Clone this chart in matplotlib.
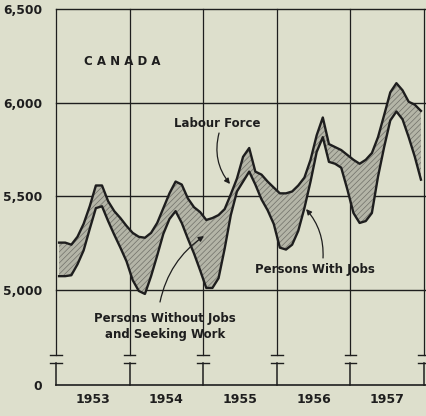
import matplotlib
matplotlib.use("Agg")
import matplotlib.pyplot as plt
import numpy as np

# monthly data, thousands of persons, Jan 1953 - Dec 1957
years = [1953, 1954, 1955, 1956, 1957]
labour_force = [
    5253, 5253, 5242, 5284, 5353, 5447, 5558, 5558, 5474, 5421, 5384, 5342,
    5305, 5284, 5279, 5305, 5358, 5437, 5516, 5579, 5563, 5489, 5442, 5416,
    5374, 5384, 5400, 5432, 5511, 5595, 5711, 5758, 5632, 5616, 5579, 5547,
    5516, 5516, 5526, 5558, 5600, 5695, 5826, 5921, 5779, 5763, 5747, 5721,
    5695, 5674, 5695, 5731, 5816, 5934, 6055, 6104, 6066, 6005, 5989, 5956,
]
with_jobs = [
    5074, 5074, 5079, 5137, 5211, 5326, 5437, 5447, 5368, 5295, 5226, 5153,
    5053, 4995, 4979, 5074, 5184, 5300, 5379, 5421, 5358, 5274, 5195, 5105,
    5011, 5011, 5063, 5221, 5400, 5526, 5579, 5632, 5563, 5484, 5426, 5353,
    5226, 5216, 5242, 5316, 5437, 5579, 5737, 5816, 5684, 5674, 5653, 5537,
    5411, 5358, 5368, 5411, 5605, 5763, 5905, 5953, 5911, 5816, 5711, 5589,
]
ytick_vals = [5000, 5500, 6000, 6500]
ytick_labels = ["5,000", "5,500", "6,000", "6,500"]

bg = "#dddfcc"
ink = "#1e1e1e"
font = "DejaVu Sans"

t = 1953 + (np.arange(len(labour_force)) + 0.5) / 12

fig = plt.figure(figsize=(4.26, 4.16), dpi=100, facecolor=bg)
ax = fig.add_axes([56 / 426, 31 / 416, 370 / 426, 376 / 416])
ax.set_facecolor(bg)

y_zero = 4493      # where the broken axis puts "0"
brk_hi, brk_lo = 4653, 4610
x_right = 1958.027
ax.set_xlim(1953, x_right)
ax.set_ylim(y_zero, 6500)
for s in ax.spines.values():
    s.set_visible(False)

# grid
for v in ytick_vals:
    ax.plot([1953, x_right], [v, v], color=ink, lw=1.0, clip_on=False, zorder=1)
ax.plot([1953, x_right], [y_zero, y_zero], color=ink, lw=1.2, clip_on=False, zorder=1)
for yr in years + [1958]:
    ax.plot([yr, yr], [brk_hi, 6500], color=ink, lw=0.9, clip_on=False, zorder=1)
    ax.plot([yr, yr], [y_zero, brk_lo], color=ink, lw=1.1, clip_on=False, zorder=1)
    for b in (brk_hi, brk_lo):
        ax.plot([yr - 0.08, yr + 0.08], [b, b], color=ink, lw=1.0, clip_on=False, zorder=1)

# shaded band
plt.rcParams["hatch.linewidth"] = 0.5
ax.fill_between(t, with_jobs, labour_force, facecolor="#b4b5a7", edgecolor="#707068",
                hatch="//////", linewidth=0, zorder=2)
ax.plot(t, labour_force, color=ink, lw=1.7, zorder=3)
ax.plot(t, with_jobs, color=ink, lw=1.7, zorder=3)

# ticks
ax.set_yticks([y_zero] + ytick_vals)
ax.set_yticklabels(["0"] + ytick_labels)
ax.set_xticks([y + 0.5 for y in years])
ax.set_xticklabels([str(y) for y in years])
ax.tick_params(axis="y", length=0, pad=10, labelsize=8.8)
ax.tick_params(axis="x", length=0, pad=6, labelsize=9)
for lab in ax.get_xticklabels() + ax.get_yticklabels():
    lab.set_fontweight("bold")
    lab.set_color(ink)
    lab.set_family(font)

# annotations
tk = dict(color=ink, fontsize=8.5, fontweight="bold", family=font, ha="center", va="center")
ax.text(1953.897, 6222, "C A N A D A", **tk)
ax.text(1955.187, 5891, "Labour Force", **tk)
ax.text(1956.519, 5112, "Persons With Jobs", **tk)
ax.text(1954.481, 4805, "Persons Without Jobs\nand Seeking Work", linespacing=1.3, **tk)

ap = dict(arrowstyle="-|>", color=ink, lw=0.9, mutation_scale=8, shrinkA=0, shrinkB=0)
ax.annotate("", xy=(1955.364, 5566), xytext=(1955.215, 5838),
            arrowprops=dict(connectionstyle="arc3,rad=0.25", **ap), zorder=4)
ax.annotate("", xy=(1956.397, 5432), xytext=(1956.628, 5171),
            arrowprops=dict(connectionstyle="arc3,rad=0.2", **ap), zorder=4)
ax.annotate("", xy=(1955.011, 5288), xytext=(1954.413, 4936),
            arrowprops=dict(connectionstyle="arc3,rad=-0.2", **ap), zorder=4)

plt.savefig("out.png", dpi=100, facecolor=bg)
